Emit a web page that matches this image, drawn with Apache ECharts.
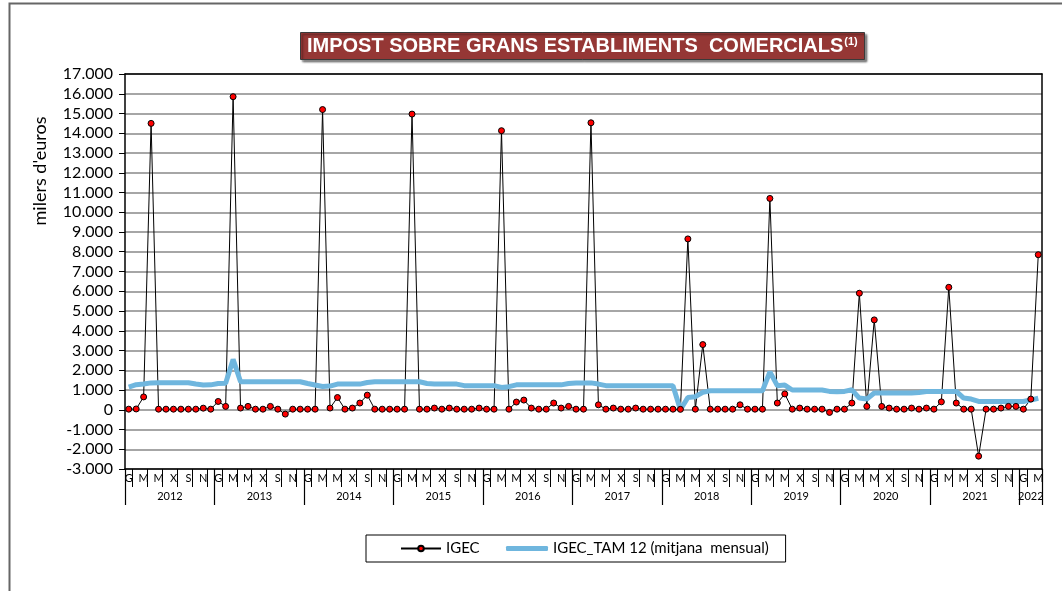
<!DOCTYPE html>
<html>
<head>
<meta charset="utf-8">
<script src="https://cdn.jsdelivr.net/npm/echarts@6/dist/echarts.min.js"></script>
<style>
  html, body { margin: 0; padding: 0; background: #fff; }
  #chart { width: 1062px; height: 591px; }
</style>
</head>
<body>
<div id="chart"></div>
<script>
// anys i mesos (G F M A M J X A S O N D)
const years = [2012, 2013, 2014, 2015, 2016, 2017, 2018, 2019, 2020, 2021, 2022];
const monthLetters = ['G', 'F', 'M', 'A', 'M', 'J', 'X', 'A', 'S', 'O', 'N', 'D'];

// IGEC, milers d'euros (gen 2012 - mar 2022)
const igec = [
  30, 40, 650, 14500, 30, 30, 30, 30, 30, 30, 80, 30,        // 2012
  420, 170, 15850, 85, 170, 30, 30, 170, 30, -220, 30, 30,   // 2013
  30, 30, 15200, 85, 620, 30, 85, 340, 740, 30, 30, 30,      // 2014
  30, 30, 14970, 30, 30, 85, 30, 85, 30, 30, 30, 85,         // 2015
  30, 30, 14130, 30, 390, 490, 85, 30, 30, 340, 85, 170,     // 2016
  30, 30, 14530, 250, 30, 85, 30, 30, 85, 30, 30, 30,        // 2017
  30, 30, 20, 8650, 30, 3300, 30, 30, 30, 30, 250, 30,       // 2018
  30, 30, 10700, 340, 800, 30, 85, 30, 30, 30, -135, 30,     // 2019
  30, 340, 5900, 170, 4550, 170, 85, 30, 30, 85, 30, 85,     // 2020
  30, 400, 6200, 340, 30, 30, -2350, 30, 30, 85, 170, 170,   // 2021
  30, 540, 7850                                              // 2022
];

// IGEC_TAM 12 (mitjana mensual)
const igecTam = [
  1150, 1270, 1300, 1360, 1370, 1370, 1370, 1370, 1370, 1300, 1250, 1260,
  1330, 1340, 2550, 1420, 1420, 1420, 1420, 1420, 1420, 1420, 1420, 1420,
  1330, 1250, 1180, 1200, 1300, 1300, 1300, 1300, 1380, 1420, 1420, 1420,
  1420, 1420, 1420, 1420, 1330, 1300, 1300, 1300, 1300, 1220, 1220, 1220,
  1220, 1220, 1130, 1170, 1260, 1260, 1260, 1260, 1260, 1260, 1260, 1330,
  1360, 1360, 1360, 1300, 1220, 1220, 1220, 1220, 1220, 1220, 1220, 1220,
  1220, 1220, 0, 620, 660, 880, 960, 960, 960, 960, 960, 960,
  960, 960, 1920, 1220, 1250, 1000, 1000, 1000, 1000, 1000, 930, 910,
  930, 1010, 590, 540, 850, 850, 850, 850, 850, 850, 870, 920,
  930, 930, 930, 930, 590, 540, 420, 420, 420, 420, 420, 420,
  420, 490, 580
];

const yMin = -3000;
const yMax = 17000;
const yStep = 1000;

const categories = [];
years.forEach(y => {
  monthLetters.forEach(m => {
    if (categories.length < igec.length) categories.push(m + ' ' + y);
  });
});
const lastIdx = categories.length - 1;

const fmtThousands = v => {
  if (v === 0) return '0';
  const s = v < 0 ? '-' : '';
  return s + Math.abs(v / 1000) + '.000';
};

const FONT = 'Lato, "Open Sans", sans-serif';
const TAM_NAME = 'IGEC_TAM 12 (mitjana  mensual)';

const chart = echarts.init(document.getElementById('chart'));

const option = {
  animation: false,
  backgroundColor: '#fff',
  title: {
    text: '{t|IMPOST SOBRE GRANS ESTABLIMENTS  COMERCIALS}{s|(1)}',
    left: 300,
    top: 32,
    backgroundColor: '#953735',
    borderColor: '#3a3a3a',
    borderWidth: 1,
    padding: [4, 7, 4, 7],
    shadowColor: 'rgba(0,0,0,0.45)',
    shadowBlur: 2,
    shadowOffsetX: 2,
    shadowOffsetY: 2,
    textStyle: {
      rich: {
        t: { color: '#fff', fontSize: 20, fontWeight: 'bold', fontFamily: '"Liberation Sans", Arial, sans-serif' },
        s: { color: '#fff', fontSize: 11, fontWeight: 'bold', fontFamily: '"Liberation Sans", Arial, sans-serif', padding: [0, 0, 9, 1] }
      }
    }
  },
  legend: [
    {
      // caixa de la llegenda + IGEC
      left: 366,
      top: 535,
      padding: [6, 306, 6, 34],
      itemWidth: 40,
      itemHeight: 7,
      borderColor: '#000',
      borderWidth: 1,
      textStyle: { color: '#000', fontSize: 15, fontFamily: FONT },
      data: ['IGEC']
    },
    {
      left: 506,
      top: 541,
      padding: 0,
      itemWidth: 42,
      itemHeight: 5,
      icon: 'roundRect',
      textStyle: { color: '#000', fontSize: 15, fontFamily: FONT },
      data: [TAM_NAME]
    }
  ],
  grid: {
    left: 125,
    right: 20,
    top: 74,
    bottom: 122
  },
  xAxis: [
    {
      type: 'category',
      data: categories,
      boundaryGap: true,
      position: 'bottom',
      axisLine: { onZero: false, lineStyle: { color: '#000', width: 1.5 } },
      axisTick: {
        show: true,
        interval: (i) => i % 2 === 1,
        length: 18,
        lineStyle: { color: '#000', width: 1 }
      },
      axisLabel: {
        interval: (i) => i % 2 === 0,
        formatter: v => v.split(' ')[0],
        margin: 4,
        color: '#000',
        fontSize: 11,
        fontFamily: FONT
      },
      splitLine: { show: false }
    },
    {
      type: 'category',
      data: categories,
      boundaryGap: true,
      position: 'bottom',
      axisLine: { show: false, onZero: false },
      axisTick: {
        show: true,
        interval: (i) => i % 12 === 0,
        length: 36,
        lineStyle: { color: '#000', width: 1.2 }
      },
      axisLabel: {
        interval: (i) => i % 12 === 6 || i === lastIdx - 1,
        formatter: (v, i) => (i === lastIdx - 1 ? '{z|' : '{y|') + v.split(' ')[1] + '}',
        margin: 22,
        color: '#000',
        fontSize: 11,
        fontFamily: FONT,
        rich: {
          y: { fontSize: 11, fontFamily: FONT, color: '#000', padding: [0, 7, 0, 0] },
          z: { fontSize: 11, fontFamily: FONT, color: '#000' }
        }
      },
      splitLine: { show: false }
    },
    {
      type: 'category',
      data: categories,
      position: 'top',
      axisLine: { onZero: false, lineStyle: { color: '#000', width: 1.5 } },
      axisTick: { show: false },
      axisLabel: { show: false },
      splitLine: { show: false }
    }
  ],
  yAxis: [
    {
      type: 'value',
      min: yMin,
      max: yMax,
      interval: yStep,
      axisLine: { show: true, onZero: false, lineStyle: { color: '#000', width: 1.5 } },
      axisTick: { show: true, length: 6, lineStyle: { color: '#000' } },
      axisLabel: {
        formatter: fmtThousands,
        color: '#000',
        fontSize: 16,
        margin: 12,
        fontFamily: FONT
      },
      splitLine: { show: true, lineStyle: { color: '#a6a6a6', width: 2 } }
    },
    {
      type: 'value',
      min: yMin,
      max: yMax,
      interval: yStep,
      position: 'right',
      axisLine: { show: true, onZero: false, lineStyle: { color: '#000', width: 1.5 } },
      axisTick: { show: false },
      axisLabel: { show: false },
      splitLine: { show: false }
    }
  ],
  graphic: [
    {
      type: 'rect',
      silent: true,
      shape: { x: 9.5, y: 3.5, width: 1100, height: 700 },
      style: { fill: 'none', stroke: '#666', lineWidth: 2 }
    },
    {
      type: 'text',
      x: 40,
      y: 171,
      rotation: Math.PI / 2,
      style: {
        text: "milers d'euros",
        align: 'center',
        verticalAlign: 'middle',
        fill: '#000',
        font: '18px Lato, "Open Sans", sans-serif'
      }
    }
  ],
  series: [
    {
      name: 'IGEC',
      type: 'line',
      data: igec,
      xAxisIndex: 0,
      yAxisIndex: 0,
      symbol: 'circle',
      symbolSize: 6,
      showAllSymbol: true,
      lineStyle: { color: '#000', width: 1 },
      itemStyle: { color: '#ff0000', borderColor: '#000', borderWidth: 1 }
    },
    {
      name: TAM_NAME,
      type: 'line',
      data: igecTam,
      xAxisIndex: 0,
      yAxisIndex: 0,
      symbol: 'none',
      lineStyle: { color: '#6fb6de', width: 5 },
      itemStyle: { color: '#6fb6de' }
    }
  ]
};

chart.setOption(option);
</script>
</body>
</html>
